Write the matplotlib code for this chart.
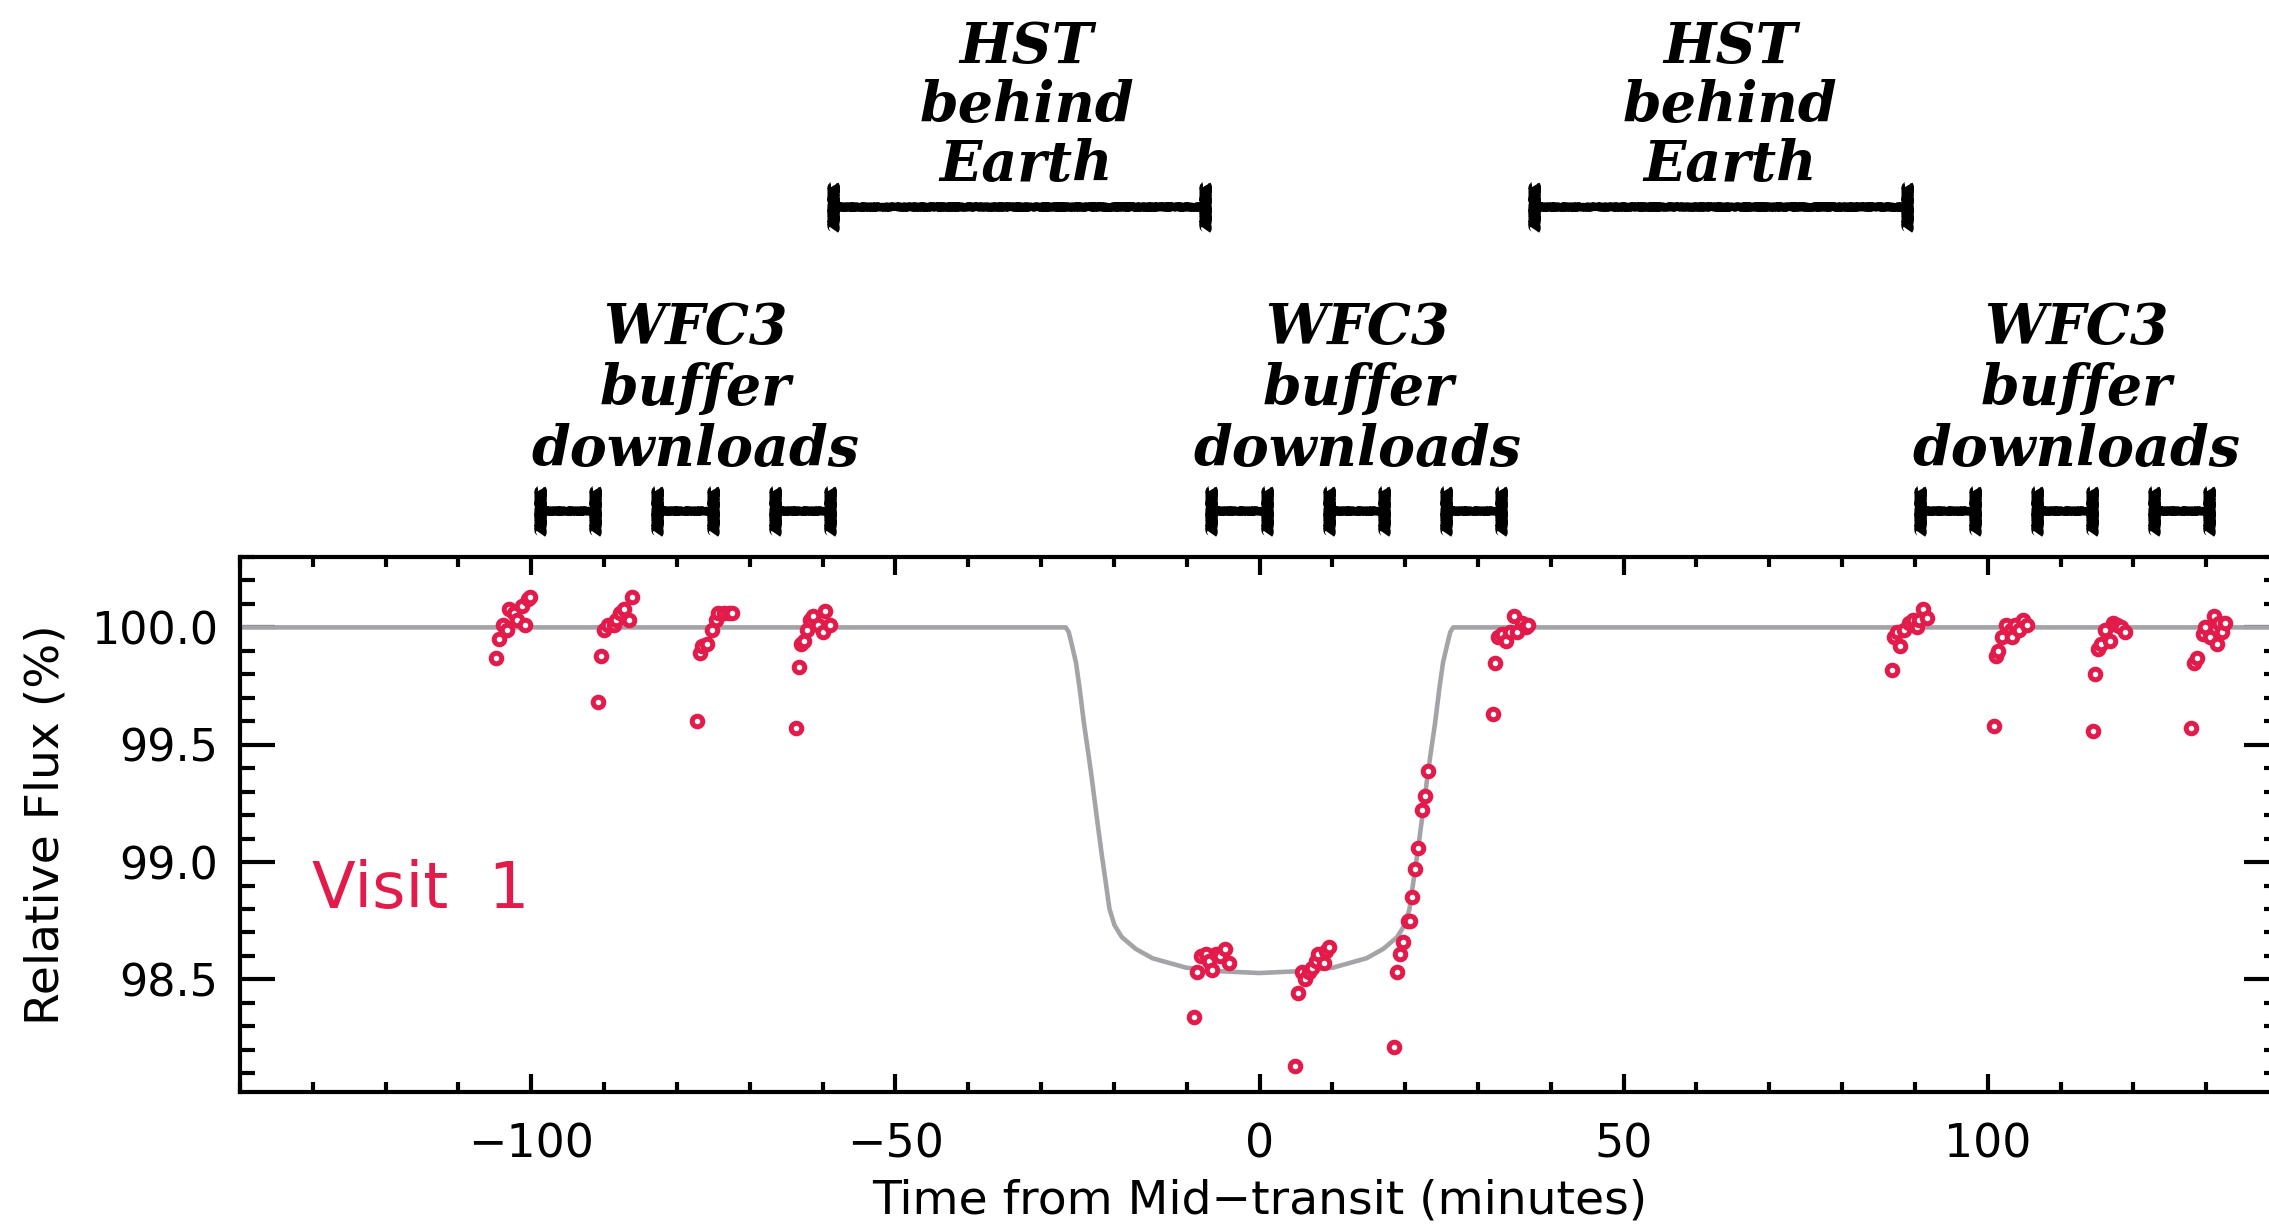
import matplotlib
matplotlib.use("Agg")
import matplotlib.pyplot as plt
from matplotlib.ticker import MultipleLocator, FormatStrFormatter
from matplotlib.transforms import blended_transform_factory

# ---- observed light curve (minutes from mid-transit, relative flux in %) ----
time_min = [
    # orbit 1
    -104.8, -104.4, -103.9, -103.3, -103.1, -102.4, -101.9, -101.3, -100.8, -100.4, -100.2,
    -90.9, -90.4, -90.0, -89.4, -88.7, -88.3, -87.8, -87.3, -86.6, -86.2,
    -77.3, -76.9, -76.5, -75.9, -75.2, -74.7, -74.3, -73.6, -72.9, -72.4,
    -63.7, -63.3, -62.9, -62.6, -62.2, -61.7, -61.3, -60.6, -60.0, -59.6, -59.0,
    # orbit 2 (in transit)
    -9.0, -8.6, -8.1, -7.4, -7.0, -6.5, -6.0, -5.4, -4.8, -4.2,
    4.9, 5.3, 5.9, 6.2, 6.8, 7.2, 7.7, 8.1, 8.8, 9.1, 9.5,
    18.5, 18.9, 19.3, 19.7, 20.4, 20.6, 21.0, 21.4, 21.8, 22.3, 22.7, 23.1,
    32.0, 32.4, 32.8, 33.3, 33.9, 34.4, 35.0, 35.3, 36.0, 36.6, 36.9,
    # orbit 3
    86.9, 88.0, 87.1, 87.6, 88.5, 89.2, 89.7, 90.3, 90.6, 91.1, 91.6,
    100.8, 101.2, 101.4, 102.0, 102.5, 103.2, 103.4, 103.8, 104.3, 104.8, 105.4,
    114.4, 114.7, 115.2, 115.5, 116.1, 116.8, 117.2, 117.8, 118.3, 118.9,
    127.9, 128.3, 128.8, 129.5, 129.8, 130.5, 131.1, 131.5, 131.7, 132.2, 132.6,
]
flux_pct = [
    99.87, 99.95, 100.01, 99.99, 100.08, 100.06, 100.03, 100.09, 100.01, 100.12, 100.13,
    99.68, 99.88, 99.99, 100.01, 100.01, 100.03, 100.06, 100.08, 100.03, 100.13,
    99.60, 99.89, 99.92, 99.93, 99.99, 100.03, 100.06, 100.06, 100.06, 100.06,
    99.57, 99.83, 99.93, 99.94, 99.99, 100.03, 100.05, 100.01, 99.98, 100.07, 100.01,
    98.34, 98.53, 98.60, 98.61, 98.58, 98.54, 98.61, 98.60, 98.63, 98.57,
    98.13, 98.44, 98.53, 98.50, 98.53, 98.55, 98.58, 98.61, 98.57, 98.62, 98.64,
    98.21, 98.53, 98.61, 98.66, 98.75, 98.75, 98.85, 98.97, 99.06, 99.22, 99.28, 99.39,
    99.63, 99.85, 99.96, 99.97, 99.94, 99.98, 100.05, 99.98, 100.02, 100.00, 100.01,
    99.82, 99.92, 99.96, 99.98, 99.99, 100.02, 100.03, 100.00, 100.03, 100.08, 100.04,
    99.58, 99.88, 99.90, 99.96, 100.01, 99.99, 99.96, 100.01, 99.99, 100.03, 100.01,
    99.56, 99.80, 99.91, 99.93, 99.99, 99.94, 100.02, 100.01, 100.00, 99.98,
    99.57, 99.85, 99.87, 99.97, 100.00, 99.96, 100.05, 99.93, 100.02, 99.98, 100.02,
]

# ---- best-fit transit model ----
model_time = [
    -140.0, -26.6, -26.2, -25.8, -25.2, -24.7, -24.1, -23.4, -23.0, -22.3, -21.7,
    -21.1, -20.6, -19.9, -18.9, -17.0, -14.7, -10.1, -5.6, 0.0,
    5.6, 10.1, 14.7, 17.0, 18.9, 19.9, 20.6, 21.1, 21.7, 22.3, 23.0,
    23.4, 24.1, 24.7, 25.2, 25.8, 26.2, 26.6, 140.0,
]
model_flux = [
    100.00, 100.00, 99.98, 99.93, 99.85, 99.74, 99.59, 99.44, 99.35, 99.18, 99.04,
    98.91, 98.80, 98.73, 98.68, 98.63, 98.59, 98.55, 98.535, 98.527,
    98.535, 98.55, 98.59, 98.63, 98.68, 98.73, 98.80, 98.91, 99.04, 99.18, 99.35,
    99.44, 99.59, 99.74, 99.85, 99.93, 99.98, 100.00, 100.00,
]

# ---- observing gaps (minutes) ----
earth_occultations = [(-58.6, -7.5), (37.7, 88.9)]
buffer_downloads = [
    (-98.8, -91.2), (-82.8, -75.0), (-66.6, -59.0),
    (-6.6, 1.0), (9.5, 17.1), (25.6, 33.2),
    (90.7, 98.3), (106.7, 114.3), (122.8, 130.4),
]
earth_label_x = [-32.0, 64.6]
buffer_label_x = [-77.5, 13.5, 112.2]
earth_label = ["HST", "behind", "Earth"]
buffer_label = ["WFC3", "buffer", "downloads"]

RED = "#E31B4A"
GREY = "#A4A4A8"
W, H = 2269, 1230

fig = plt.figure(figsize=(W / 100, H / 100), dpi=100)
ax = fig.add_axes([240 / W, 1 - 1092 / H, 2039 / W, 535 / H])

ax.plot(model_time, model_flux, color=GREY, lw=3.3, solid_capstyle="butt",
        solid_joinstyle="round", zorder=2)
ax.plot(time_min, flux_pct, ls="none", marker="o", ms=7.6, mfc="white",
        mec=RED, mew=3.6, zorder=3)

ax.set_xlim(-140, 140)
ax.set_ylim(98.02, 100.30)
ax.xaxis.set_major_locator(MultipleLocator(50))
ax.xaxis.set_minor_locator(MultipleLocator(10))
ax.yaxis.set_major_locator(MultipleLocator(0.5))
ax.yaxis.set_minor_locator(MultipleLocator(0.1))
ax.yaxis.set_major_formatter(FormatStrFormatter("%.1f"))

for s in ax.spines.values():
    s.set_linewidth(3.0)
ax.tick_params(axis="both", which="both", direction="in", top=True, right=True,
               width=3.0, labelsize=33, colors="black")
ax.tick_params(axis="x", which="major", length=13, pad=22)
ax.tick_params(axis="x", which="minor", length=7)
ax.tick_params(axis="y", which="major", length=25, pad=16, labelsize=32)
ax.tick_params(axis="y", which="minor", length=11)

ax.set_xlabel("Time from Mid\u2212transit (minutes)", fontsize=34, labelpad=8)
ax.set_ylabel("Relative Flux (%)", fontsize=34, labelpad=16)

ax.text(312 / W, 1 - 908 / H, "Visit  1", transform=fig.transFigure, color=RED,
        fontsize=46, ha="left", va="baseline")

# ---- annotations above the panel ----
tr = blended_transform_factory(ax.transData, fig.transFigure)
serif = dict(family="DejaVu Serif", weight="bold", style="italic", fontsize=40)


def gap_bar(x0, x1, y_px, cap_px, lw, cap_lw):
    y = 1 - y_px / H
    dy = cap_px / 2 / H
    segs = [([x0, x1], [y, y], lw)] + [([xc, xc], [y - dy, y + dy], cap_lw) for xc in (x0, x1)]
    for xs, ys, w in segs:
        ln, = ax.plot(xs, ys, color="black", lw=w, transform=tr, clip_on=False,
                      solid_capstyle="butt")
        ln.set_sketch_params(scale=0.8, length=3, randomness=2)


for x0, x1 in earth_occultations:
    gap_bar(x0, x1, 207, 44, 6.0, 8.0)
for x0, x1 in buffer_downloads:
    gap_bar(x0, x1, 511, 44, 6.0, 8.0)

for xc in earth_label_x:
    for word, base in zip(earth_label, (63, 122, 181)):
        ax.text(xc, 1 - base / H, word, transform=tr, ha="center", va="baseline", **serif)
for xc in buffer_label_x:
    for word, base in zip(buffer_label, (344, 405, 466)):
        ax.text(xc, 1 - base / H, word, transform=tr, ha="center", va="baseline", **serif)

fig.savefig("out.png", dpi=100)
